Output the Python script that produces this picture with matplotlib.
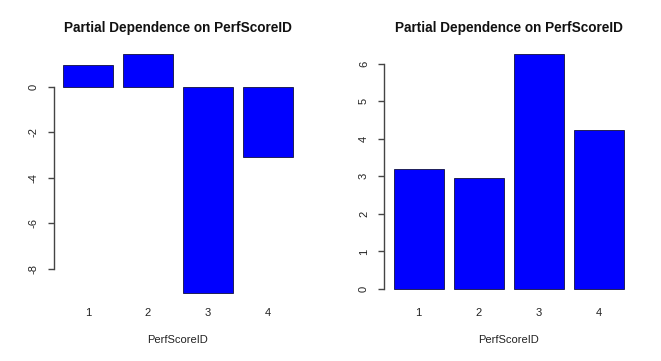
import matplotlib
matplotlib.use("Agg")
import matplotlib.pyplot as plt
import matplotlib.transforms as mtransforms
import numpy as np

categories = ["1", "2", "3", "4"]
left_values = [0.95, 1.44, -9.04, -3.08]
right_values = [3.19, 2.95, 6.25, 4.24]
left_yticks = [-8, -6, -4, -2, 0]
right_yticks = [0, 1, 2, 3, 4, 5, 6]
title = "Partial Dependence on PerfScoreID"
xlabel = "PerfScoreID"

plt.rcParams['font.family'] = ['Liberation Sans', 'DejaVu Sans']
W, H = 661, 361
fig = plt.figure(figsize=(W / 100, H / 100), dpi=100)
txt = '#222222'
axc = '#444444'

def px_axes(x0, x1, ytop, ybot):
    return fig.add_axes([x0 / W, (H - ybot) / H, (x1 - x0) / W, (ybot - ytop) / H])

def r_barplot(ax, values, yticks):
    n = len(values)
    centers = 0.2 + 0.5 + np.arange(n) * 1.2
    ax.bar(centers, values, width=1.0, color='#0000ff', edgecolor='#101040', linewidth=0.6)
    lo, hi = min(min(values), 0), max(max(values), 0)
    r = hi - lo
    ax.set_ylim(lo - 0.04 * r, hi + 0.04 * r)
    xr = 4.6
    ax.set_xlim(0.2 - 0.04 * xr, 4.8 + 0.04 * xr)
    for s in ['top', 'right', 'bottom']:
        ax.spines[s].set_visible(False)
    ax.spines['left'].set_bounds(yticks[0], yticks[-1])
    ax.spines['left'].set_color(axc)
    ax.spines['left'].set_linewidth(1.0)
    ax.set_yticks(yticks)
    ax.set_yticklabels([str(t) for t in yticks])
    ax.tick_params(axis='y', length=4.5, width=1.0, color=axc, pad=6.5,
                   labelrotation=90, labelsize=8, labelcolor=txt)
    for lbl in ax.get_yticklabels():
        lbl.set_va('center')
    ax.set_xticks([])
    trans = mtransforms.blended_transform_factory(ax.transData, fig.transFigure)
    for c, lab in zip(centers, categories):
        ax.text(c, (H - 313) / H, lab, transform=trans, ha='center', va='center',
                fontsize=8, color=txt)
    ax.text(np.mean(centers), (H - 340) / H, xlabel, transform=trans, ha='center',
            va='center', fontsize=8, color=txt)
    ax.text(np.mean(centers), (H - 28) / H, title, transform=trans, ha='center',
            va='center', fontsize=9.8, fontweight='bold', color='#111111')
    ax.patch.set_alpha(0)

ax1 = px_axes(54, 302, 44.6, 302.2)
r_barplot(ax1, left_values, left_yticks)
ax2 = px_axes(384.3, 632.9, 44.9, 298.4)
r_barplot(ax2, right_values, right_yticks)

fig.savefig("out.png", dpi=100)
